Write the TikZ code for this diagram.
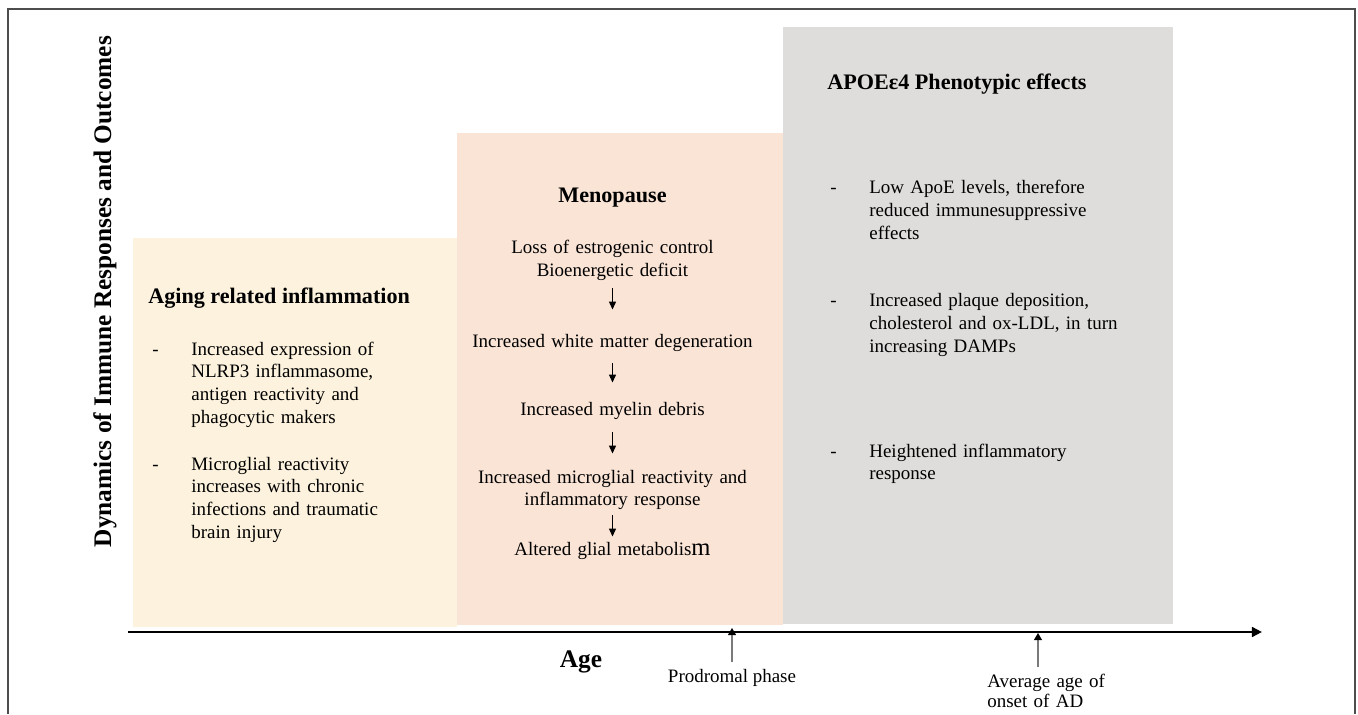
\documentclass[tikz,border=0pt]{standalone}
\usepackage{fontspec}
\setmainfont{Liberation Serif}
\usetikzlibrary{arrows.meta, positioning}
\definecolor{agefill}{HTML}{FCF2DD}
\definecolor{menofill}{HTML}{FAE4D6}
\definecolor{apoefill}{HTML}{DFDDDC}
\definecolor{framecolor}{HTML}{4D4D4D}
\definecolor{pointercolor}{HTML}{7A7A7A}

\begin{document}
\begin{tikzpicture}[
    head/.style={font=\fontsize{12.6}{15}\selectfont\bfseries, inner sep=0pt},
    body/.style={font=\fontsize{10.8}{13.04}\selectfont, inner sep=0pt},
    listtext/.style={body, anchor=base west, text width=7cm, align=left},
    bulletmark/.style={body, anchor=base west},
    chaintext/.style={body, anchor=base, text width=6.4cm, align=center},
    axislab/.style={font=\fontsize{14.4}{17}\selectfont\bfseries, inner sep=0pt},
    flow/.style={-{Triangle[length=4.5pt, width=4pt]}, line width=0.6pt},
    pointer/.style={pointercolor, line width=0.7pt,
        -{Triangle[length=4pt, width=4.5pt, color=black]}},
    axisarr/.style={-{Triangle[length=5.7pt, width=5.5pt]}, line width=1.7pt},
]
\useasboundingbox (0,0) rectangle (27.16,14.28);

% frame
\draw[framecolor, line width=1.1pt] (0.16,0) -- (0.16,14.10) -- (27.10,14.10) -- (27.10,0);

% ================================================ the three stages
\fill[agefill]  (2.66,1.74) rectangle (9.14,9.52);
\fill[menofill] (9.14,1.78) rectangle (15.66,11.62);
\fill[apoefill] (15.66,1.80) rectangle (23.46,13.74);

% ================================================ axes
\node[axislab, rotate=90] (ylab) at (2.10,8.45) {Dynamics of Immune Responses and Outcomes};
\coordinate (axstart) at (2.56,1.64);
\coordinate (axend) at (25.24,1.64);
\draw[axisarr] (axstart) -- (axend);
\node[axislab, anchor=base] (agelab) at (11.62,0.94) {Age};

% ================================================ left: aging
\node[head, anchor=base west] (agetitle) at (2.96,8.20) {Aging related inflammation};
\node[bulletmark] (agedash1) at (3.04,7.18) {-};
\node[listtext] (ageitem1) at (3.82,7.18)
    {Increased expression of\\ NLRP3 inflammasome,\\ antigen reactivity and\\ phagocytic makers};
\node[bulletmark] (agedash2) at (3.04,4.88) {-};
\node[listtext] (ageitem2) at (3.82,4.88)
    {Microglial reactivity\\ increases with chronic\\ infections and traumatic\\ brain injury};

% ================================================ middle: menopause
\node[head, anchor=base] (menotitle) at (12.25,10.22) {Menopause};
\node[chaintext] (m1) at (12.25,9.20) {Loss of estrogenic control\\ Bioenergetic deficit};
\node[chaintext] (m2) at (12.25,7.34) {Increased white matter degeneration};
\node[chaintext] (m3) at (12.25,5.98) {Increased myelin debris};
\node[chaintext] (m4) at (12.25,4.62) {Increased microglial reactivity and\\ inflammatory response};
\node[chaintext] (m5) at (12.25,3.18)
    {Altered glial metabolis{\fontsize{14}{13.04}\selectfont m}};
\draw[flow, shorten <=0.14cm, shorten >=0.48cm] (m1) -- (m2);
\draw[flow, shorten <=0.24cm, shorten >=0.38cm] (m2) -- (m3);
\draw[flow, shorten <=0.26cm, shorten >=0.32cm] (m3) -- (m4);
\draw[flow, shorten <=0.10cm, shorten >=0.10cm] (m4) -- (m5);

% ================================================ right: APOE4
\node[head, anchor=base west] (apoetitle) at (16.54,12.48) {APOEε4 Phenotypic effects};
\node[bulletmark] (apoedash1) at (16.60,10.40) {-};
\node[listtext] (apoeitem1) at (17.38,10.40)
    {Low ApoE levels, therefore\\ reduced immunesuppressive\\ effects};
\node[bulletmark] (apoedash2) at (16.60,8.14) {-};
\node[listtext] (apoeitem2) at (17.38,8.14)
    {Increased plaque deposition,\\ cholesterol and ox-LDL, in turn\\ increasing DAMPs};
\node[bulletmark] (apoedash3) at (16.60,5.14) {-};
\node[listtext] (apoeitem3) at (17.38,5.14)
    {Heightened inflammatory\\ response};

% ================================================ markers on the age axis
\node[body, anchor=base] (prod) at (14.64,0.64) {Prodromal phase};
\coordinate (prodtip) at (14.64,1.72);
\draw[pointer, shorten <=0.12cm] (prod) -- (prodtip);

\node[body, anchor=base west, text width=2.8cm, align=left,
    font=\fontsize{10.8}{11.9}\selectfont] (avg) at (19.74,0.54)
    {Average age of\\ onset of AD};
\coordinate (avgtip) at (20.76,1.62);
\draw[pointer, shorten <=0.12cm] (avgtip |- avg.north) -- (avgtip);

\end{tikzpicture}
\end{document}
